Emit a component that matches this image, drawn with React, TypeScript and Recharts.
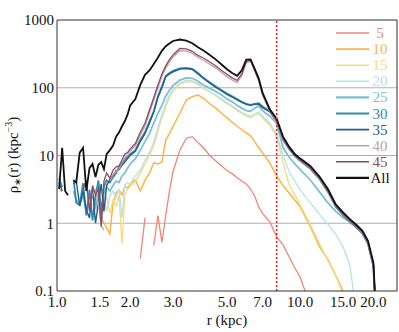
import React from "react"
import { LineChart, Line, XAxis, YAxis, ReferenceLine } from "recharts"

const FONT = "Liberation Serif, Times New Roman, serif"
const AXIS = "#333"

// radius grid in kpc, shared by every profile
const radius = [
  1.02, 1.05, 1.08, 1.11, 1.14, 1.17, 1.2, 1.24, 1.28, 1.32, 1.36, 1.4, 1.44, 1.48,
  1.52, 1.56, 1.6, 1.65, 1.7, 1.75, 1.8, 1.85, 1.9, 1.95, 2.0,
  2.1, 2.2, 2.3, 2.4, 2.5, 2.6, 2.7, 2.8, 2.9, 3.0,
  3.2, 3.4, 3.6, 3.8, 4.0, 4.25, 4.5, 4.75, 5.0, 5.25, 5.5, 5.75,
  6.0, 6.25, 6.5, 6.75, 7.0, 7.5, 8.0, 8.5, 9.0, 9.5, 10,
  11, 12, 13, 14, 15, 16, 17, 18, 19, 20, 20.4,
]

// stellar density profiles rho*(r) in kpc^-3, one per age bin
const rho5 = [
  null, null, null, null, null, null, null, null, null, null, null, null, null, null,
  null, null, null, null, null, null, null, null, null, null, null,
  null, 0.3, 1.2, null, 0.47, 1.3, 0.52, 1.3, 3.0, 5.8,
  12, 18, 19, 15.5, 13, 10, 8.3, 7.0, 6.0, 5.4, 4.7, 4.2,
  3.8, 3.2, 2.5, 1.75, 1.4, 1.05, 0.63, 0.48, 0.32, 0.22, 0.16,
  0.06, null, null, null, null, null, null, null, null, null, null,
]
const rho10 = [
  3.2, 2.9, null, null, null, null, null, null, null, null, null, null, null, null,
  1.2, 1.0, 0.85, 0.7, 2.0, 2.8, 3.1, 2.6, 3.5, 3.3, 3.8,
  4.35, 3.0, 4.3, 5.5, 7.8, 7.5, 8.0, 17, 21, 27,
  42, 66, 74, 78, 70, 58, 50, 42, 36, 31, 27, 24,
  21.5, 19.5, 16, 13, 11, 7.7, 5.0, 3.6, 2.8, 2.2, 1.75,
  0.9, 0.45, 0.29, 0.17, 0.1, 0.05, null, null, null, null, null,
]
const rho15 = [
  null, null, null, null, null, null, null, null, null, null, null, null, null, null,
  null, 1.8, 2.5, 1.4, 2.2, 1.8, 2.6, 0.5, 2.5, 3.2, 3.5,
  4.2, 5.5, 7.5, 10, 14, 23, 36, 52, 72, 88,
  112, 122, 122, 112, 98, 86, 76, 66, 58, 52, 46, 42,
  38, 36, 39, 42, 36, 28, 19, 8, 3.7, 2.6, 1.85,
  0.95, 0.5, 0.28, 0.17, 0.09, null, null, null, null, null, null,
]
const rho20 = [
  null, null, null, null, null, null, null, null, null, null, null, null, null, null,
  1.6, 2.2, 1.5, 2.5, 3.0, 2.4, 3.2, 1.2, 3.6, 4.0, 3.8,
  5.0, 6.0, 8.5, 11, 16, 26, 40, 58, 78, 95,
  118, 128, 126, 115, 100, 88, 78, 68, 60, 54, 48, 43,
  40, 38, 41, 44, 38, 30, 21, 10, 5.8, 4.2, 3.1,
  2.0, 1.35, 0.97, 0.68, 0.45, 0.24, 0.05, null, null, null, null,
]
const rho25 = [
  null, null, null, null, null, 3.0, 2.2, 1.9, 2.6, 1.5, 2.4, 3.0, 1.6, 2.8,
  1.0, 2.8, 3.4, 3.0, 3.6, 4.2, 4.0, 5.0, 5.5, 6.5, 7.5,
  9, 12, 16, 21, 30, 42, 55, 75, 92, 108,
  130, 140, 138, 125, 110, 98, 88, 78, 68, 62, 55, 50,
  46, 45, 50, 54, 46, 38, 30, 13, 9.5, 7.5, 6.2,
  4.35, 2.9, 2.0, 1.5, 1.2, 1.05, 0.87, 0.71, 0.5, 0.23, 0.05,
]
const rho30 = [
  4.6, 3.4, null, null, null, 4.4, 2.0, 1.85, 3.9, 1.3, 3.1, 1.1, 2.5, 4.3,
  1.4, 3.5, 4.3, 4.0, 4.8, 5.5, 6.8, 7.7, 8.5, 9.6, 10.5,
  12, 17, 22, 32, 45, 75, 105, 150, 165, 178,
  193, 196, 190, 165, 140, 120, 104, 92, 82, 75, 68, 62,
  58, 56, 58, 59, 53, 45, 33, 17, 12.5, 9.8, 8.3,
  6.4, 4.5, 2.9, 1.75, 1.32, 1.05, 0.87, 0.71, 0.5, 0.23, 0.05,
]
const rho35 = [
  4.0, 3.0, null, null, null, 3.8, 4.2, 1.8, 3.0, 1.6, 1.2, 3.2, 1.0, 2.0,
  3.8, 1.5, 3.6, 4.4, 5.0, 6.0, 6.2, 7.2, 8.0, 9.0, 10,
  11.5, 16, 21, 30, 44, 72, 100, 145, 160, 172,
  188, 192, 186, 160, 137, 117, 101, 90, 80, 73, 66, 61,
  57, 55, 57, 57, 51, 44, 32, 17.5, 12.8, 10, 8.5,
  6.5, 4.6, 2.95, 1.78, 1.35, 1.07, 0.88, 0.72, 0.5, 0.24, 0.06,
]
const rho40 = [
  null, null, null, null, null, null, null, null, null, 3.6, 1.7, 2.7, 3.1, 2.0,
  0.9, 0.8, null, 4.2, 5.2, 5.8, 6.4, 7.8, 9.3, 10, 11.5,
  14, 20, 27, 43, 66, 100, 148, 195, 240, 285,
  352, 350, 322, 282, 255, 222, 195, 168, 146, 130, 119, 150,
  232, 245, 178, 125, 78, 45, 32, 17.5, 12.8, 9.8, 8.4,
  6.6, 4.6, 2.95, 1.78, 1.36, 1.08, 0.88, 0.72, 0.5, 0.24, 0.06,
]
const rho45 = [
  null, null, null, null, null, null, null, null, 3.2, 4.3, 1.5, 3.6, 2.6, 3.2,
  0.9, 4.2, 5.5, 4.6, 6.1, 6.8, 7.0, 8.6, 10.5, 11, 12.5,
  15, 22, 30, 47, 72, 110, 160, 210, 260, 305,
  380, 375, 345, 300, 275, 240, 210, 180, 158, 140, 128, 160,
  245, 255, 182, 130, 80, 46, 33, 18, 13, 10, 8.6,
  6.7, 4.7, 3.0, 1.8, 1.38, 1.1, 0.9, 0.74, 0.52, 0.25, 0.06,
]
const rhoAll = [
  3.2, 13, 3.0, 2.6, null, 4.3, 4.0, 11, 13, 3.0, 6.5, 7.5, 4.8, 7.3,
  8.0, 6.3, 10.5, 12, 14, 19, 22, 27, 32, 40, 55,
  68, 110, 155, 180, 225, 280, 350, 410, 450, 490,
  515, 495, 455, 395, 355, 305, 260, 220, 188, 165, 150, 180,
  260, 262, 190, 138, 85, 48, 35, 19, 13.5, 10.5, 9.0,
  7.0, 4.9, 3.2, 1.9, 1.45, 1.15, 0.95, 0.78, 0.55, 0.26, 0.06,
]

const xTicks = [1, 1.5, 2, 3, 5, 7, 10, 15, 20]
const xMinorTicks = [1.1, 1.2, 1.3, 1.4, 1.6, 1.7, 1.8, 1.9, 2.5, 4, 6, 8, 9, 12, 14, 16, 18]
const yTicks = [0.1, 1, 10, 100, 1000]
const yTickLabels = ["0.1", "1", "10", "100", "1000"]
const yMinorTicks = [
  0.2, 0.3, 0.4, 0.5, 0.6, 0.7, 0.8, 0.9,
  2, 3, 4, 5, 6, 7, 8, 9,
  20, 30, 40, 50, 60, 70, 80, 90,
  200, 300, 400, 500, 600, 700, 800, 900,
]
const gridValues = [1, 10, 100]
const cutRadius = 8

const series = [
  { key: "rho5", label: "5", color: "#ef8676", width: 1.3, values: rho5 },
  { key: "rho10", label: "10", color: "#fdb444", width: 1.5, values: rho10 },
  { key: "rho15", label: "15", color: "#f6db7e", width: 1.3, values: rho15 },
  { key: "rho20", label: "20", color: "#b5e1ec", width: 1.3, values: rho20 },
  { key: "rho25", label: "25", color: "#7cbfd6", width: 1.8, values: rho25 },
  { key: "rho30", label: "30", color: "#2f8bb0", width: 1.8, values: rho30 },
  { key: "rho35", label: "35", color: "#245e88", width: 1.4, values: rho35 },
  { key: "rho40", label: "40", color: "#c59ca8", width: 1.3, values: rho40 },
  { key: "rho45", label: "45", color: "#8d4a60", width: 1.3, values: rho45 },
  { key: "rhoAll", label: "All", color: "#111111", width: 1.8, values: rhoAll },
]

const data = radius.map((r, i) => {
  const row: Record<string, number | null> = { r }
  series.forEach((s) => {
    row[s.key] = s.values[i]
  })
  return row
})

const tickStyle = { fill: "#111", fontSize: 15, fontFamily: FONT, style: { fontFamily: FONT } }

export default function App() {
  return (
    <div style={{ position: "absolute", left: 0, top: 0, width: 399, height: 332, background: "#fff", fontFamily: FONT }}>
      <LineChart width={399} height={332} data={data} margin={{ top: 20, right: 2, bottom: 0, left: 0 }}>
        <XAxis
          xAxisId="x"
          dataKey="r"
          type="number"
          scale="log"
          domain={[1, 25]}
          allowDataOverflow
          ticks={xTicks}
          interval={0}
          tickFormatter={(v: number) => v.toFixed(1)}
          tickLine={false}
          tickSize={1}
          tickMargin={4}
          height={41}
          axisLine={{ stroke: AXIS }}
          tick={tickStyle}
        />
        <YAxis
          yAxisId="y"
          type="number"
          scale="log"
          domain={[0.1, 1000]}
          allowDataOverflow
          ticks={yTicks}
          interval={0}
          tickFormatter={(v: number) => yTickLabels[yTicks.indexOf(v)] ?? String(v)}
          tickLine={false}
          tickSize={1}
          tickMargin={2}
          width={57}
          axisLine={{ stroke: AXIS }}
          tick={tickStyle}
        />

        {/* inward tick marks on all four sides, plus the top / right frame */}
        {(["top", "bottom"] as const).map((o) => [
          <XAxis
            key={o + "-maj"}
            xAxisId={o + "-maj"}
            orientation={o}
            mirror
            type="number"
            scale="log"
            domain={[1, 25]}
            allowDataOverflow
            ticks={xTicks}
            interval={0}
            tick={false}
            tickSize={5}
            tickLine={{ stroke: AXIS }}
            axisLine={o === "top" ? { stroke: AXIS } : false}
          />,
          <XAxis
            key={o + "-min"}
            xAxisId={o + "-min"}
            orientation={o}
            mirror
            type="number"
            scale="log"
            domain={[1, 25]}
            allowDataOverflow
            ticks={xMinorTicks}
            interval={0}
            tick={false}
            tickSize={2.5}
            tickLine={{ stroke: AXIS }}
            axisLine={false}
          />,
        ])}
        {(["left", "right"] as const).map((o) => [
          <YAxis
            key={o + "-maj"}
            yAxisId={o + "-maj"}
            orientation={o}
            mirror
            type="number"
            scale="log"
            domain={[0.1, 1000]}
            allowDataOverflow
            ticks={yTicks}
            interval={0}
            tick={false}
            tickSize={5}
            tickLine={{ stroke: AXIS }}
            axisLine={o === "right" ? { stroke: AXIS } : false}
          />,
          <YAxis
            key={o + "-min"}
            yAxisId={o + "-min"}
            orientation={o}
            mirror
            type="number"
            scale="log"
            domain={[0.1, 1000]}
            allowDataOverflow
            ticks={yMinorTicks}
            interval={0}
            tick={false}
            tickSize={2.5}
            tickLine={{ stroke: AXIS }}
            axisLine={false}
          />,
        ])}

        {gridValues.map((g) => (
          <ReferenceLine key={"g" + g} xAxisId="x" yAxisId="y" y={g} stroke="#b0b0b0" strokeWidth={1} />
        ))}

        {series.map((s) => (
          <Line
            key={s.key}
            xAxisId="x"
            yAxisId="y"
            dataKey={s.key}
            type="linear"
            stroke={s.color}
            strokeWidth={s.width}
            dot={false}
            activeDot={false}
            connectNulls={false}
            isAnimationActive={false}
          />
        ))}

        <ReferenceLine
          xAxisId="x"
          yAxisId="y"
          x={cutRadius}
          stroke="#ff1a1a"
          strokeWidth={1.5}
          strokeDasharray="2 2"
        />
      </LineChart>

      <svg
        width={399}
        height={332}
        style={{ position: "absolute", left: 0, top: 0, pointerEvents: "none", fontFamily: FONT }}
      >
        {series.map((s, i) => {
          const y = 33 + i * 16.1
          return (
            <g key={s.key}>
              <line x1={336} x2={369} y1={y} y2={y} stroke={s.color} strokeWidth={s.width + 0.3} />
              <text x={380} y={y + 5} textAnchor="middle" fontSize={15} fill={s.color}>
                {s.label}
              </text>
            </g>
          )
        })}
        <text x={227} y={325} textAnchor="middle" fontSize={15} fill="#111">
          r (kpc)
        </text>
        <text x={18} y={155} textAnchor="middle" fontSize={15} fill="#111" transform="rotate(-90 18 155)">
          ρ<tspan dy={3} fontSize={10}>∗</tspan>
          <tspan dy={-3}>(r) (kpc</tspan>
          <tspan dy={-6} fontSize={10}>−3</tspan>
          <tspan dy={6}>)</tspan>
        </text>
      </svg>
    </div>
  )
}
